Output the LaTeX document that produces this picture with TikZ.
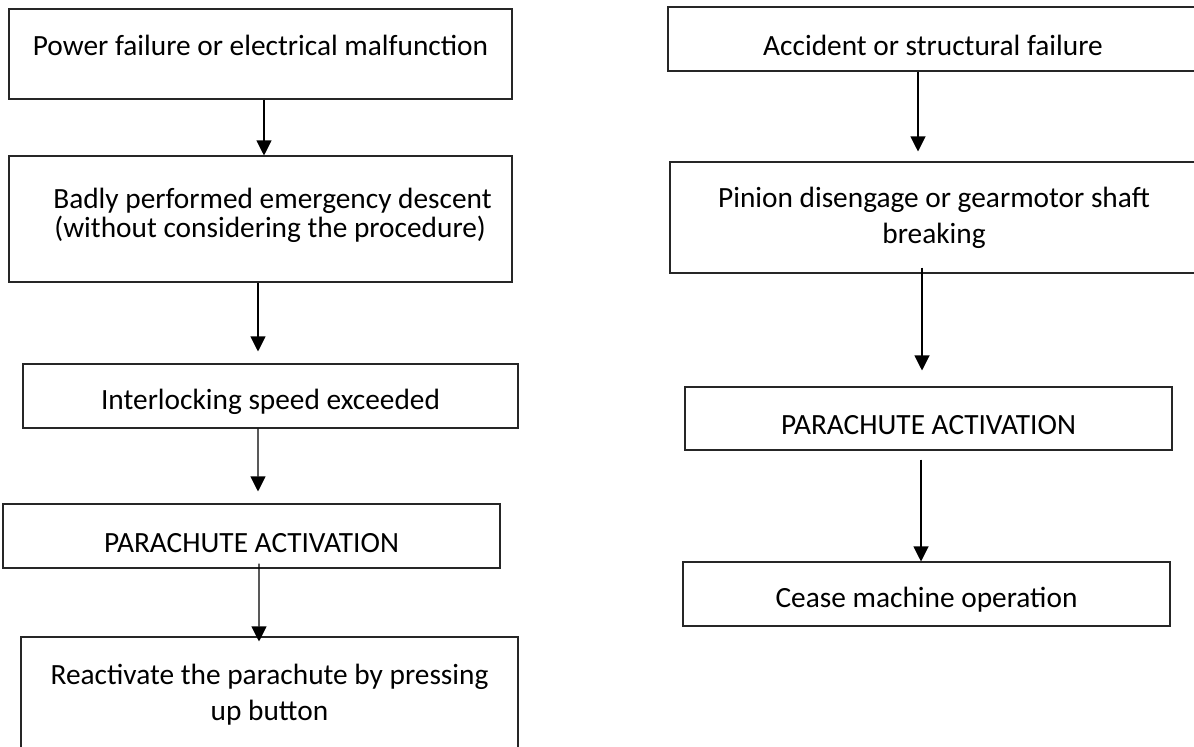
\documentclass[tikz,border=0pt]{standalone}
\usepackage{fontspec}
\setmainfont{Carlito}
\usetikzlibrary{arrows.meta, calc}

\begin{document}
\begin{tikzpicture}[x=0.02cm, y=-0.02cm,
  box/.style={rectangle, draw=black!85, line width=0.6pt, align=center, inner sep=0pt, font=\fontsize{16.7}{20.5}\selectfont},
  oneline/.style={box, minimum height=64*0.02cm, text height=18.5pt},
  arr/.style={-{Triangle[length=0.3cm, width=0.3cm]}, line width=0.6pt}
]
\useasboundingbox (0,0) rectangle (1194,747);
\clip (0,0) rectangle (1194,747);
\node[box, minimum width=503*0.02cm, minimum height=90*0.02cm, text depth=9.5pt] (b1) at (260.5,54) {Power failure or electrical malfunction};
\node[box, minimum width=503*0.02cm, minimum height=126*0.02cm, text depth=7pt, font=\fontsize{16.7}{17}\selectfont] (b2) at (260.5,219) {\hspace*{13.6pt}Badly performed emergency descent\\\hspace*{11pt}(without considering the procedure)};
\node[oneline, minimum width=495*0.02cm] (b3) at (270.5,396) {Interlocking speed exceeded};
\node[oneline, minimum width=497*0.02cm] (b4) at (251.5,536) {PARACHUTE ACTIVATION};
\node[box, minimum width=497*0.02cm, minimum height=115*0.02cm] (b5) at (269.5,694.5) {Reactivate the parachute by pressing\\up button};
\node[oneline, minimum width=530*0.02cm] (r1) at (933,39) {Accident or structural failure};
\node[box, minimum width=528*0.02cm, minimum height=111*0.02cm] (r2) at (934,217.5) {Pinion disengage or gearmotor shaft\\breaking};
\node[oneline, minimum width=487*0.02cm, minimum height=63*0.02cm] (r3) at (928.5,418.5) {PARACHUTE ACTIVATION};
\node[oneline, minimum width=487*0.02cm] (r4) at (926.5,594) {Cease machine operation};
\draw[arr] ($(b1.south)+(3.5,0)$) -- ($(b2.north)+(3.5,0)$);
\draw[arr, shorten >=0.24cm] ($(b2.south)+(-2.5,0)$) -- ($(b3.north)+(-12.5,0)$);
\draw[arr, shorten >=0.24cm] ($(b3.south)+(-12.5,0)$) -- ($(b4.north)+(6.5,0)$);
\draw[arr] ($(b4.south)+(7.5,-5)$) -- ($(b5.north)+(-10.5,5)$);
\draw[arr, shorten >=0.2cm] ($(r1.south)+(-15,0)$) -- ($(r2.north)+(-16,0)$);
\draw[arr, shorten >=0.32cm] ($(r2.south)+(-12,-6)$) -- ($(r3.north)+(-6.5,0)$);
\draw[arr, shorten <=0.18cm] ($(r3.south)+(-7.5,0)$) -- ($(r4.north)+(-5.5,0)$);
\end{tikzpicture}
\end{document}
